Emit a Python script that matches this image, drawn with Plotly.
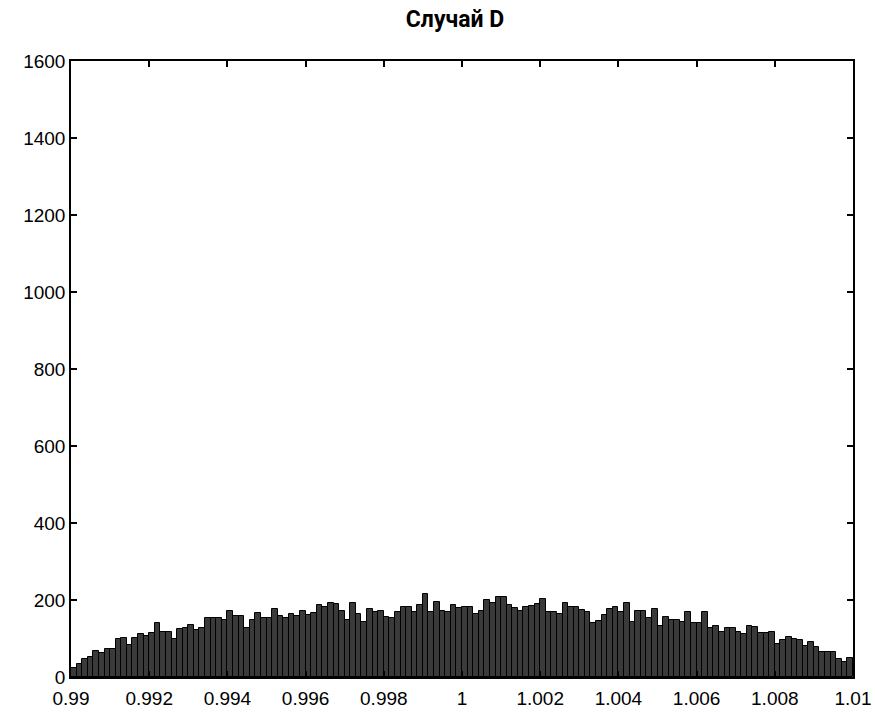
import plotly.graph_objects as go

# Histogram bin range and counts (140 bins between 0.99 and 1.01)
bin_start = 0.99
bin_end = 1.01
counts = [
    23, 35, 48, 53, 68, 63, 73, 73, 98, 101,
    83, 102, 111, 106, 115, 139, 116, 116, 99, 124,
    128, 135, 122, 128, 154, 154, 154, 148, 171, 158,
    158, 128, 148, 167, 152, 152, 176, 158, 152, 163,
    158, 172, 160, 165, 187, 183, 191, 190, 172, 148,
    191, 163, 144, 176, 168, 172, 157, 152, 168, 183,
    183, 168, 187, 215, 168, 196, 172, 168, 187, 178,
    183, 183, 163, 172, 200, 193, 207, 207, 187, 178,
    172, 183, 185, 190, 202, 168, 168, 163, 191, 183,
    183, 174, 168, 140, 145, 160, 176, 181, 168, 191,
    144, 172, 172, 152, 176, 133, 157, 148, 148, 144,
    168, 140, 140, 168, 128, 133, 118, 128, 128, 118,
    113, 133, 131, 114, 114, 118, 87, 96, 105, 99,
    96, 81, 92, 79, 64, 64, 64, 48, 38, 50,
]

x_tickvals = [0.99, 0.992, 0.994, 0.996, 0.998, 1.0, 1.002, 1.004, 1.006, 1.008, 1.01]
x_ticktext = ["0.99", "0.992", "0.994", "0.996", "0.998", "1", "1.002", "1.004", "1.006", "1.008", "1.01"]
y_tickvals = [0, 200, 400, 600, 800, 1000, 1200, 1400, 1600]

n = len(counts)
w = (bin_end - bin_start) / n
centers = [bin_start + (i + 0.5) * w for i in range(n)]

fig = go.Figure(go.Bar(
    x=centers, y=counts, width=[w] * n,
    marker=dict(color="#3a3a3a", line=dict(color="#000000", width=1)),
    hoverinfo="x+y",
))

axis_font = dict(family="Liberation Sans, Arial, sans-serif", size=19, color="#000000")
fig.update_layout(
    width=875, height=713,
    margin=dict(l=71, r=22, t=61, b=36, autoexpand=False),
    paper_bgcolor="white", plot_bgcolor="white",
    bargap=0, showlegend=False,
    title=dict(text="<b>Случай D</b>", x=0.52, xanchor="center", y=0.973, yanchor="middle",
               font=dict(family="Roboto, Noto Sans, sans-serif", size=23, color="#000000")),
)
fig.update_xaxes(
    range=[bin_start, bin_end], tickvals=x_tickvals, ticktext=x_ticktext,
    ticks="inside", ticklen=6, tickwidth=1.5, tickcolor="black",
    showline=True, linecolor="black", linewidth=1.5, mirror="ticks",
    showgrid=False, zeroline=False, tickfont=axis_font, ticklabelstandoff=3,
    automargin=False,
)
fig.update_yaxes(
    range=[0, 1600], tickvals=y_tickvals,
    ticks="inside", ticklen=6, tickwidth=1.5, tickcolor="black",
    showline=True, linecolor="black", linewidth=1.5, mirror="ticks",
    showgrid=False, zeroline=False, tickfont=axis_font, automargin=False,
)

fig.write_html("out.html")
